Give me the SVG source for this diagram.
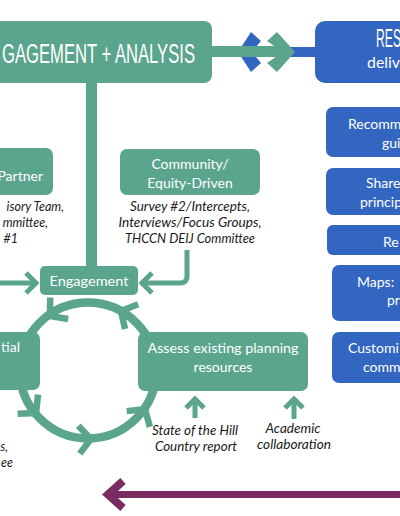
<svg xmlns="http://www.w3.org/2000/svg" width="400" height="516" viewBox="0 0 400 516">
<style>
.g{fill:#5ba58e}
.b{fill:#3366c0}
.t{font-family:Lato,"Open Sans",sans-serif;font-size:14px;fill:#ffffff}
.h{font-family:"Liberation Sans",Arial,sans-serif;font-size:27px;fill:#ffffff}
.i{font-family:Lato,"Open Sans",sans-serif;font-size:12.5px;font-style:italic;fill:#1a1a1a}
.ln{fill:none;stroke:#5ba58e;stroke-width:5;stroke-linejoin:miter}
.cv{fill:none;stroke:#5ba58e;stroke-width:6.5;stroke-linejoin:miter}
</style>
<defs>
<polyline id="chev" points="-12,-14 0,0 -12,14" class="cv"/>
</defs>
<rect width="400" height="516" fill="#ffffff"/>

<g id="connectors">
  <rect x="86" y="80" width="11" height="188" class="g"/>
  <rect x="250" y="47" width="75" height="10" class="b"/>
  <polygon points="238,52 251,32 261,41 252,52 261,63 251,72" class="b"/>
  <rect x="205" y="46" width="85" height="11" class="g"/>
  <polygon points="295,52 277,32 267,41 283,52 267,63 277,72" class="g"/>
  <line x1="0" y1="283" x2="34" y2="283" class="ln"/>
  <polyline points="26,273 36,283 26,293" class="ln"/>
  <path d="M187,250 V276 Q187,283 180,283 H142" class="ln"/>
  <polyline points="152,273 142,283 152,293" class="ln"/>
  <circle cx="88" cy="370.5" r="68" fill="none" stroke="#5ba58e" stroke-width="8.5"/>
  <use href="#chev" transform="translate(121,311) rotate(-152)"/>
  <use href="#chev" transform="translate(50,316) rotate(140)"/>
  <use href="#chev" transform="translate(36,413) rotate(47)"/>
  <use href="#chev" transform="translate(91,439) rotate(-3)"/>
  <use href="#chev" transform="translate(145,409) rotate(-56)"/>
  <line x1="195" y1="418" x2="195" y2="401" class="ln"/>
  <polyline points="186,408 195,399 204,408" class="ln"/>
  <line x1="294" y1="419" x2="294" y2="401" class="ln"/>
  <polyline points="285,408 294,399 303,408" class="ln"/>
  <line x1="112" y1="494.5" x2="400" y2="494.5" stroke="#7a2b62" stroke-width="7"/>
  <polyline points="123,481 108,494.5 123,508" fill="none" stroke="#7a2b62" stroke-width="8" stroke-linejoin="miter"/>
</g>

<g id="banner">
  <rect x="-12" y="21" width="224" height="62" rx="8" class="g"/>
  <text x="2" y="63" class="h" textLength="193" lengthAdjust="spacingAndGlyphs">GAGEMENT + ANALYSIS</text>
</g>

<g id="results">
  <rect x="315" y="21" width="100" height="62" rx="10" class="b"/>
  <text x="376" y="47" class="h" style="font-size:26px" textLength="25" lengthAdjust="spacingAndGlyphs">RES</text>
  <text x="367" y="68" class="t" style="font-size:16px" textLength="33" lengthAdjust="spacingAndGlyphs">deliv</text>
</g>

<g id="partner">
  <rect x="-12" y="148" width="65" height="47" rx="7" class="g"/>
  <text x="43" y="181" class="t" text-anchor="end">Partner</text>
  <text class="i" text-anchor="end"><tspan x="64" y="211">isory Team,</tspan><tspan x="48" y="227">mmittee,</tspan><tspan x="18" y="243">#1</tspan></text>
</g>

<g id="community">
  <rect x="120" y="149" width="140" height="46" rx="7" class="g"/>
  <text class="t" text-anchor="middle"><tspan x="190" y="169">Community/</tspan><tspan x="190" y="188">Equity-Driven</tspan></text>
  <text class="i" text-anchor="middle"><tspan x="190" y="211" textLength="120" lengthAdjust="spacingAndGlyphs">Survey #2/Intercepts,</tspan><tspan x="190" y="227" textLength="143" lengthAdjust="spacingAndGlyphs">Interviews/Focus Groups,</tspan><tspan x="190" y="243" textLength="130" lengthAdjust="spacingAndGlyphs">THCCN DEIJ Committee</tspan></text>
</g>

<g id="engagement">
  <rect x="40" y="266" width="98" height="29" rx="5" class="g"/>
  <text x="89" y="286" class="t" text-anchor="middle" textLength="79" lengthAdjust="spacingAndGlyphs">Engagement</text>
</g>

<g id="potential">
  <rect x="-12" y="332" width="52" height="58" rx="7" class="g"/>
  <text x="20" y="352" class="t" text-anchor="end">tial</text>
  <text class="i" text-anchor="end"><tspan x="8" y="451">s,</tspan><tspan x="13" y="467">ee</tspan></text>
</g>

<g id="assess">
  <rect x="138" y="332" width="170" height="59" rx="7" class="g"/>
  <text class="t" text-anchor="middle"><tspan x="223" y="353" textLength="151" lengthAdjust="spacingAndGlyphs">Assess existing planning</tspan><tspan x="223" y="372">resources</tspan></text>
</g>

<g id="state-report">
  <text class="i" text-anchor="middle"><tspan x="195" y="435" textLength="86" lengthAdjust="spacingAndGlyphs">State of the Hill</tspan><tspan x="196" y="451" textLength="82" lengthAdjust="spacingAndGlyphs">Country report</tspan></text>
</g>

<g id="academic">
  <text class="i" text-anchor="middle"><tspan x="293" y="433" textLength="55" lengthAdjust="spacingAndGlyphs">Academic</tspan><tspan x="294" y="449" textLength="74" lengthAdjust="spacingAndGlyphs">collaboration</tspan></text>
</g>

<g id="recommendations">
  <rect x="326" y="107" width="90" height="50" rx="7" class="b"/>
  <text class="t"><tspan x="348" y="129">Recomm</tspan><tspan x="382" y="148">gui</tspan></text>
</g>
<g id="shared-principles">
  <rect x="326" y="168" width="90" height="47" rx="7" class="b"/>
  <text class="t"><tspan x="366" y="188">Share</tspan><tspan x="360" y="207">princip</tspan></text>
</g>
<g id="report">
  <rect x="327" y="225" width="90" height="30" rx="6" class="b"/>
  <text x="383" y="247" class="t">Re</text>
</g>
<g id="maps">
  <rect x="332" y="265" width="90" height="56" rx="7" class="b"/>
  <text class="t"><tspan x="357" y="287">Maps:</tspan><tspan x="387" y="305">pr</tspan></text>
</g>
<g id="customized">
  <rect x="332" y="332" width="90" height="51" rx="7" class="b"/>
  <text class="t"><tspan x="348" y="353">Customi</tspan><tspan x="363" y="372">comm</tspan></text>
</g>
</svg>
